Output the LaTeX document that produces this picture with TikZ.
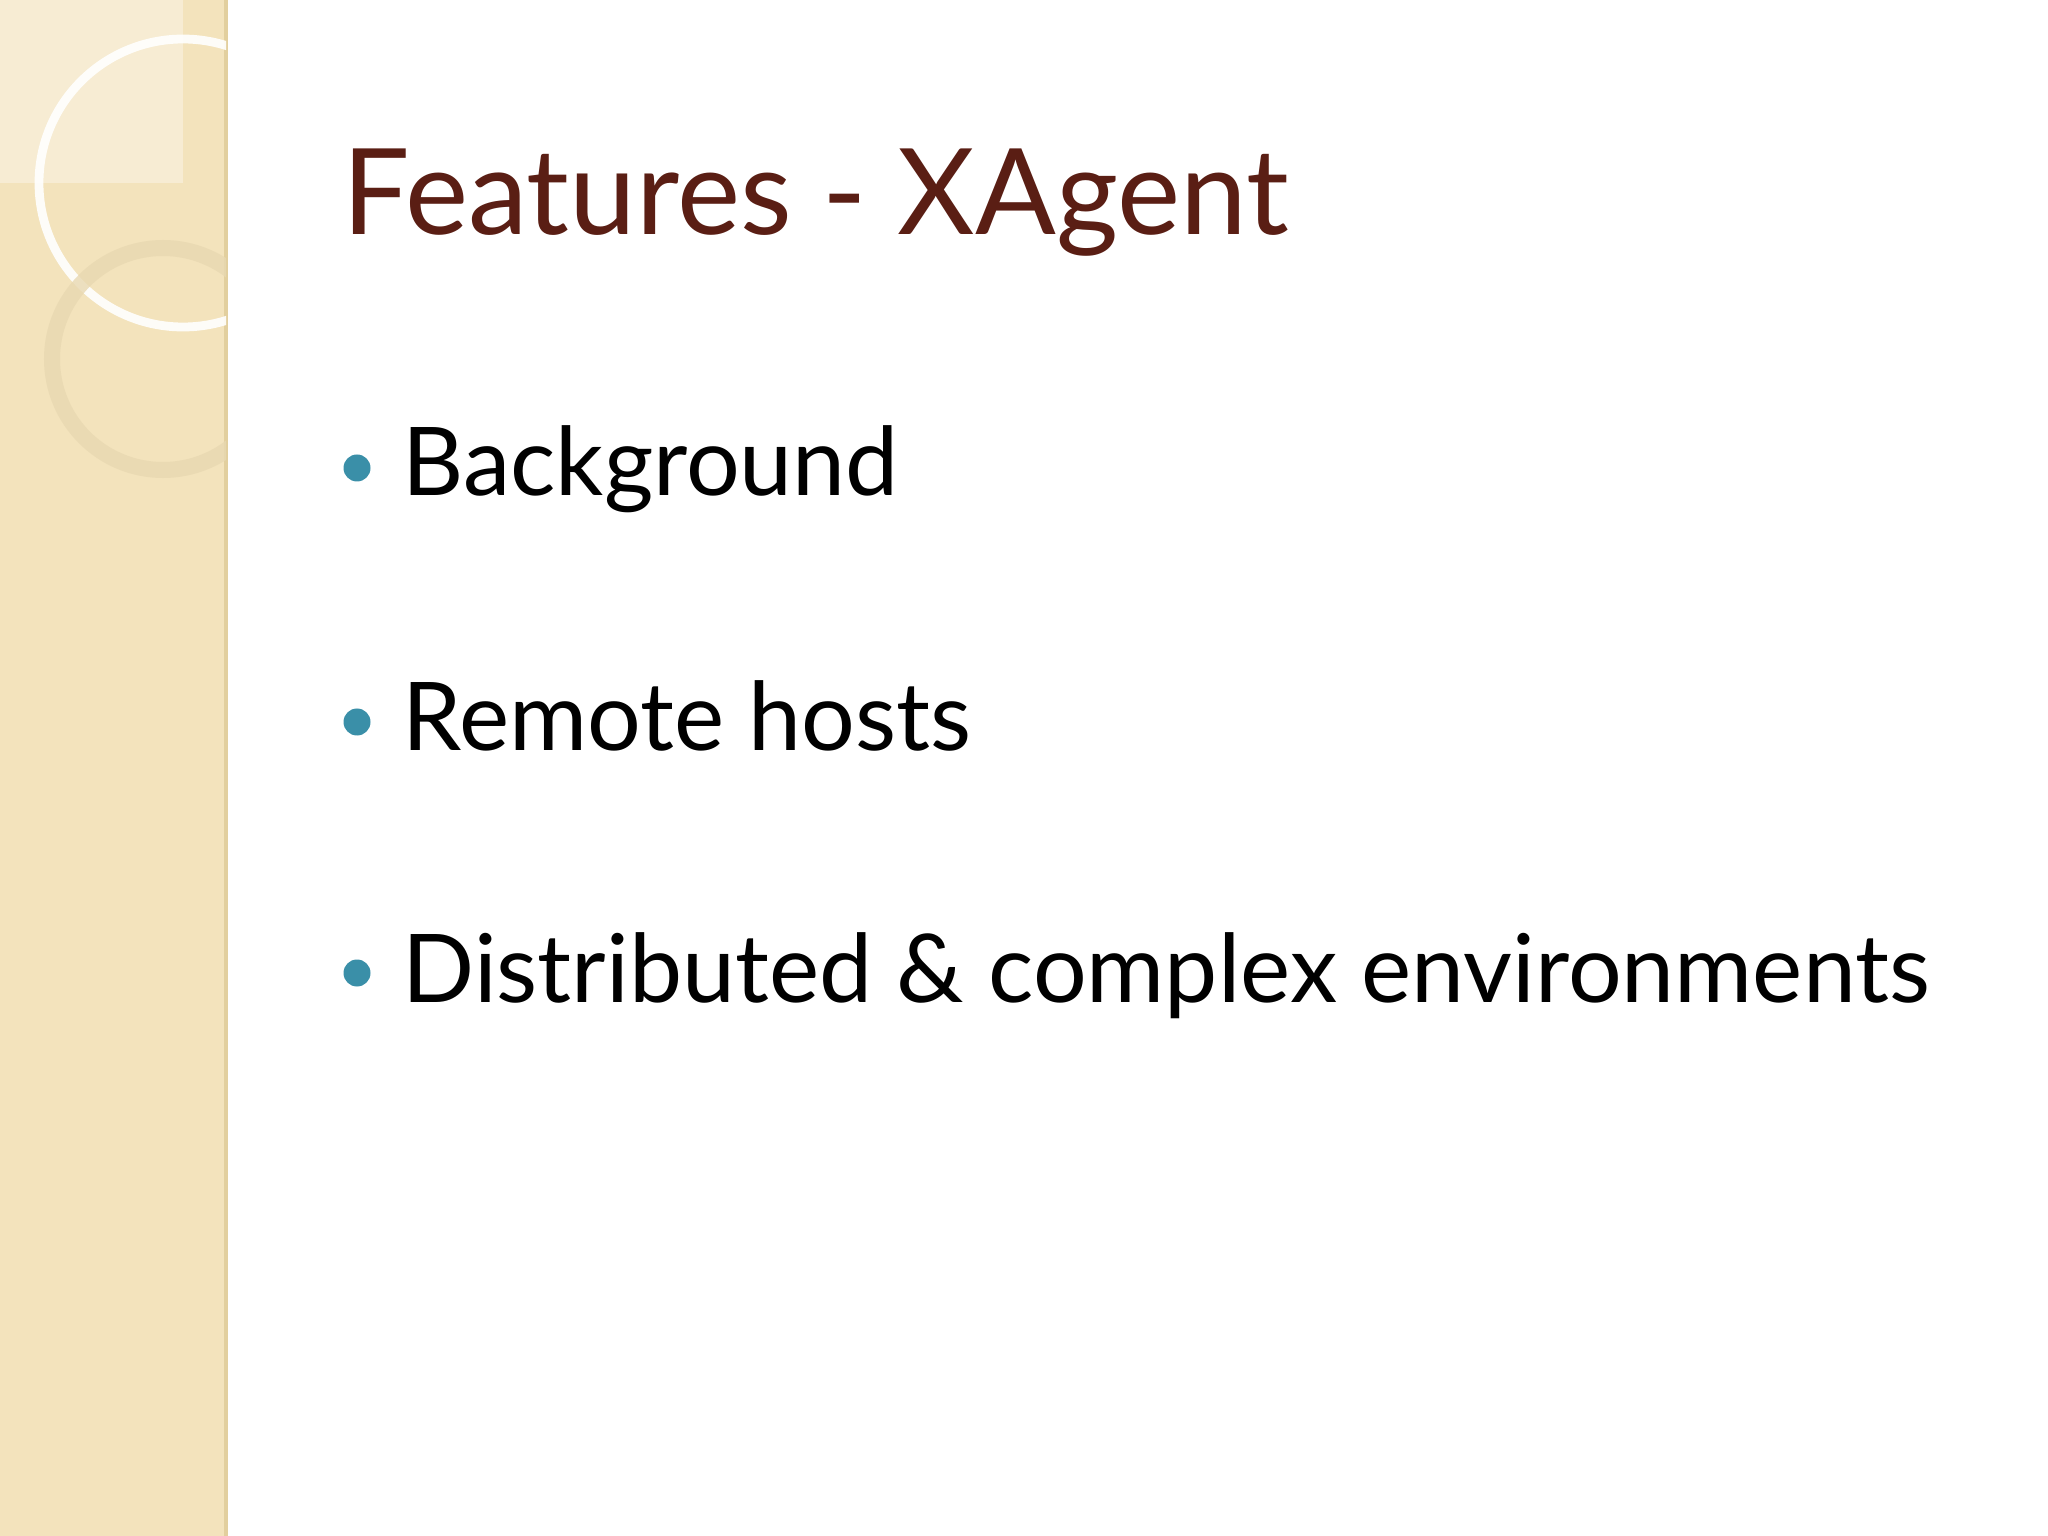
\documentclass[tikz,border=0pt]{standalone}
\usepackage{fontspec}
\setmainfont{Lato}
\definecolor{strip}{HTML}{F3E3BC}
\definecolor{stripedge}{HTML}{E2CF9E}
\definecolor{titlec}{HTML}{5A1E14}
\definecolor{bulletc}{HTML}{3A8FA8}
\tikzset{itemtext/.style={anchor=base west,inner sep=0pt,font=\fontsize{27}{32}\selectfont},
bul/.style={circle,fill=bulletc,minimum size=0.27cm,inner sep=0pt}}
\begin{document}
\begin{tikzpicture}
\useasboundingbox (0,0) rectangle (20.48,-15.36);
\fill[white] (0,0) rectangle (20.48,-15.36);
\fill[strip] (0,0) rectangle (2.26,-15.36);
\draw[stripedge,line width=1.2pt] (2.26,0) -- (2.26,-15.36);
\fill[white,opacity=0.35] (0,0) rectangle (1.83,-1.83);
\begin{scope}
\clip (0,0) rectangle (2.26,-15.36);
\draw[white,line width=2.5pt,opacity=0.9] (1.83,-1.83) circle (1.44);
\draw[stripedge!80!white,line width=0.16cm,opacity=0.8] (1.63,-3.59) circle (1.11);
\end{scope}
\node[anchor=base west,inner sep=0pt,text=titlec,font=\fontsize{34}{40}\selectfont] (title) at (3.42,-2.35) {Features - XAgent};
\node[bul] (b1) at (3.57,-4.68) {};
\node[itemtext] (t1) at (4.02,-4.96) {Background};
\node[bul] (b2) at (3.57,-7.22) {};
\node[itemtext] (t2) at (4.02,-7.51) {Remote hosts};
\node[bul] (b3) at (3.57,-9.73) {};
\node[itemtext] (t3) at (4.02,-10.03) {Distributed \& complex environments};
\end{tikzpicture}
\end{document}
